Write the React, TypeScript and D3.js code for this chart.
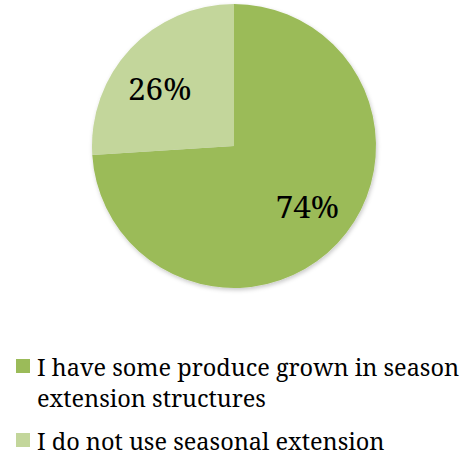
import React from "react";
import * as d3 from "d3";

const categories = [
  "I have some produce grown in season extension structures",
  "I do not use seasonal extension",
];
const values = [74, 26];
const labels = ["74%", "26%"];
const colors = ["#9BBB59", "#C3D69B"];
const legendLines = [
  ["I have some produce grown in season", "extension structures"],
  ["I do not use seasonal extension"],
];

export default function App() {
  const width = 472;
  const height = 461;
  const cx = 234;
  const cy = 146;
  const r = 142;
  const pie = d3.pie<number>().sort(null).value((d) => d);
  const arcs = pie(values);
  const arc = d3.arc<d3.PieArcDatum<number>>().innerRadius(0).outerRadius(r);
  const labelArc = d3.arc<d3.PieArcDatum<number>>().innerRadius(r * 0.67).outerRadius(r * 0.67);
  const nudges = [[4, -4], [-5, 8]];
  const font = "'Noto Serif', serif";
  const legendY = [376, 450];
  return (
    <svg width={width} height={height} style={{ position: "absolute", left: 0, top: 0 }}>
      <defs>
        <filter id="sh" x="-10%" y="-10%" width="120%" height="120%">
          <feDropShadow dx="1" dy="2" stdDeviation="2" floodColor="#000" floodOpacity="0.22" />
        </filter>
      </defs>
      <g transform={`translate(${cx},${cy})`}>
        <g filter="url(#sh)">
          {arcs.map((a, i) => (
            <path key={i} d={arc(a) || ""} fill={colors[i]} />
          ))}
        </g>
        {arcs.map((a, i) => {
          const [x, y] = labelArc.centroid(a);
          return (
            <text key={i} x={x + nudges[i][0]} y={y + nudges[i][1] + 11} textAnchor="middle" fontFamily={font} fontSize={31.5} fill="#000">
              {labels[i]}
            </text>
          );
        })}
      </g>
      {legendLines.map((lines, i) => (
        <g key={i}>
          <rect x={16} y={legendY[i] - 17} width={14} height={14} fill={colors[i]} />
          <text fontFamily={font} fontSize={23.5} fill="#000">
            {lines.map((l, j) => (
              <tspan key={j} x={37} y={legendY[i] + j * 31}>{l}</tspan>
            ))}
          </text>
        </g>
      ))}
    </svg>
  );
}
